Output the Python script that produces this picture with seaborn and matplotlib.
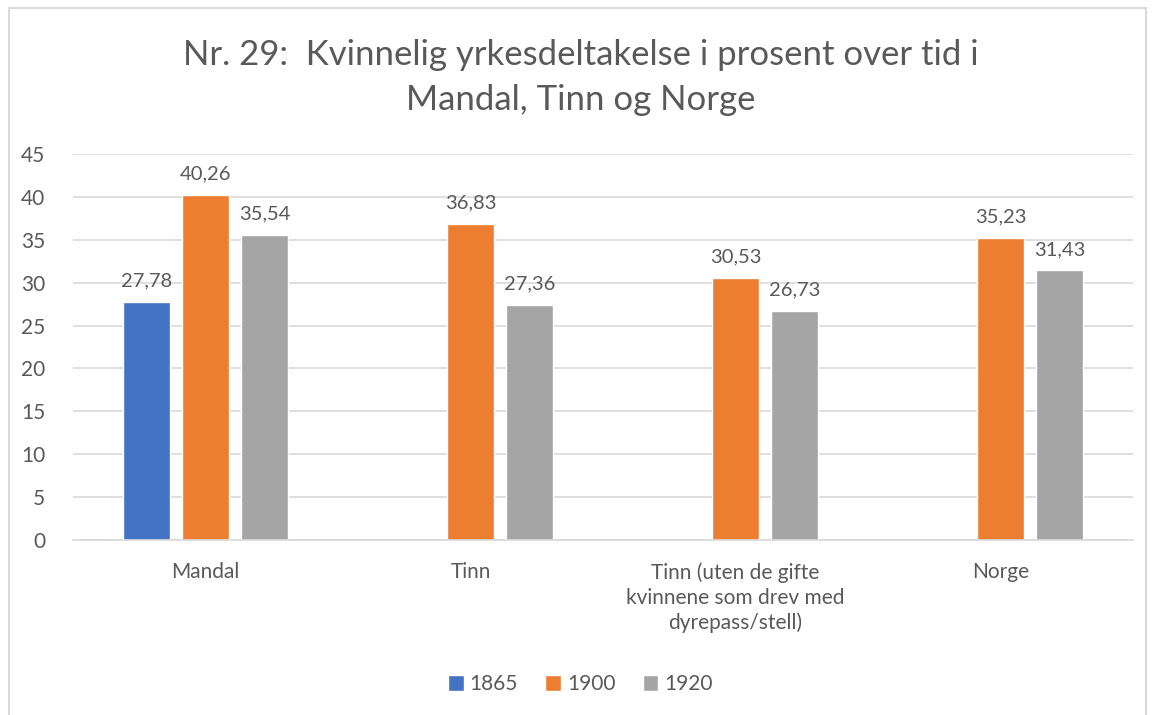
import matplotlib
matplotlib.use("Agg")
import matplotlib.pyplot as plt
import seaborn as sns
import numpy as np
import pandas as pd
from matplotlib.patches import Rectangle

# Data
categories = [
    "Mandal",
    "Tinn",
    "Tinn (uten de gifte\nkvinnene som drev med\ndyrepass/stell)",
    "Norge",
]
years = ["1865", "1900", "1920"]
values_1865 = [27.78, np.nan, np.nan, np.nan]
values_1900 = [40.26, 36.83, 30.53, 35.23]
values_1920 = [35.54, 27.36, 26.73, 31.43]
colors = ["#4472C4", "#ED7D31", "#A5A5A5"]

TEXT = "#595959"

rows = []
for year, vals in zip(years, [values_1865, values_1900, values_1920]):
    for cat, v in zip(categories, vals):
        rows.append({"kategori": cat, "år": year, "prosent": v})
df = pd.DataFrame(rows)

sns.set_style("white")
plt.rcParams["font.family"] = ["Lato", "DejaVu Sans"]

fig = plt.figure(figsize=(11.54, 7.15), dpi=100)
ax = fig.add_axes([0.0633, 0.2448, 0.9185, 0.5398])

sns.barplot(
    data=df, x="kategori", y="prosent", hue="år",
    order=categories, hue_order=years, palette=colors,
    width=0.67, gap=0.2, saturation=1, ax=ax, legend=True,
)

for cont in ax.containers:
    labels = ["" if np.isnan(b.get_height()) else f"{b.get_height():.2f}".replace(".", ",")
              for b in cont]
    ax.bar_label(cont, labels=labels, padding=9, fontsize=14.5, color=TEXT)

ax.set_ylim(0, 45)
ax.set_xlim(-0.5, len(categories) - 0.5)
ax.set_yticks(range(0, 46, 5))
ax.yaxis.grid(True, color="#D9D9D9", linewidth=1.2)
ax.set_axisbelow(True)
for s in ["top", "right", "left"]:
    ax.spines[s].set_visible(False)
ax.spines["bottom"].set_color("#D9D9D9")
ax.spines["bottom"].set_linewidth(1.2)
ax.tick_params(axis="both", length=0, labelsize=15, colors=TEXT)
ax.tick_params(axis="y", pad=20)
ax.tick_params(axis="x", pad=16)
for t in ax.get_xticklabels():
    t.set_linespacing(1.3)
ax.set_xlabel("")
ax.set_ylabel("")

fig.suptitle("Nr. 29:  Kvinnelig yrkesdeltakelse i prosent over tid i\nMandal, Tinn og Norge",
             x=0.503, y=0.945, fontsize=25, color=TEXT, linespacing=1.5)

handles, lbls = ax.get_legend_handles_labels()
ax.legend_.remove()
fig.legend(handles, lbls, loc="center", bbox_to_anchor=(0.503, 0.043), ncol=3,
           frameon=False, fontsize=15, labelcolor=TEXT, handlelength=0.75,
           handleheight=0.75, handletextpad=0.3, columnspacing=1.3)

fig.patches.append(Rectangle((0.008, -0.01), 0.985, 0.999, transform=fig.transFigure,
                             fill=False, edgecolor="#D9D9D9", linewidth=1.5))

fig.savefig("out.png", dpi=100)
plt.close(fig)
